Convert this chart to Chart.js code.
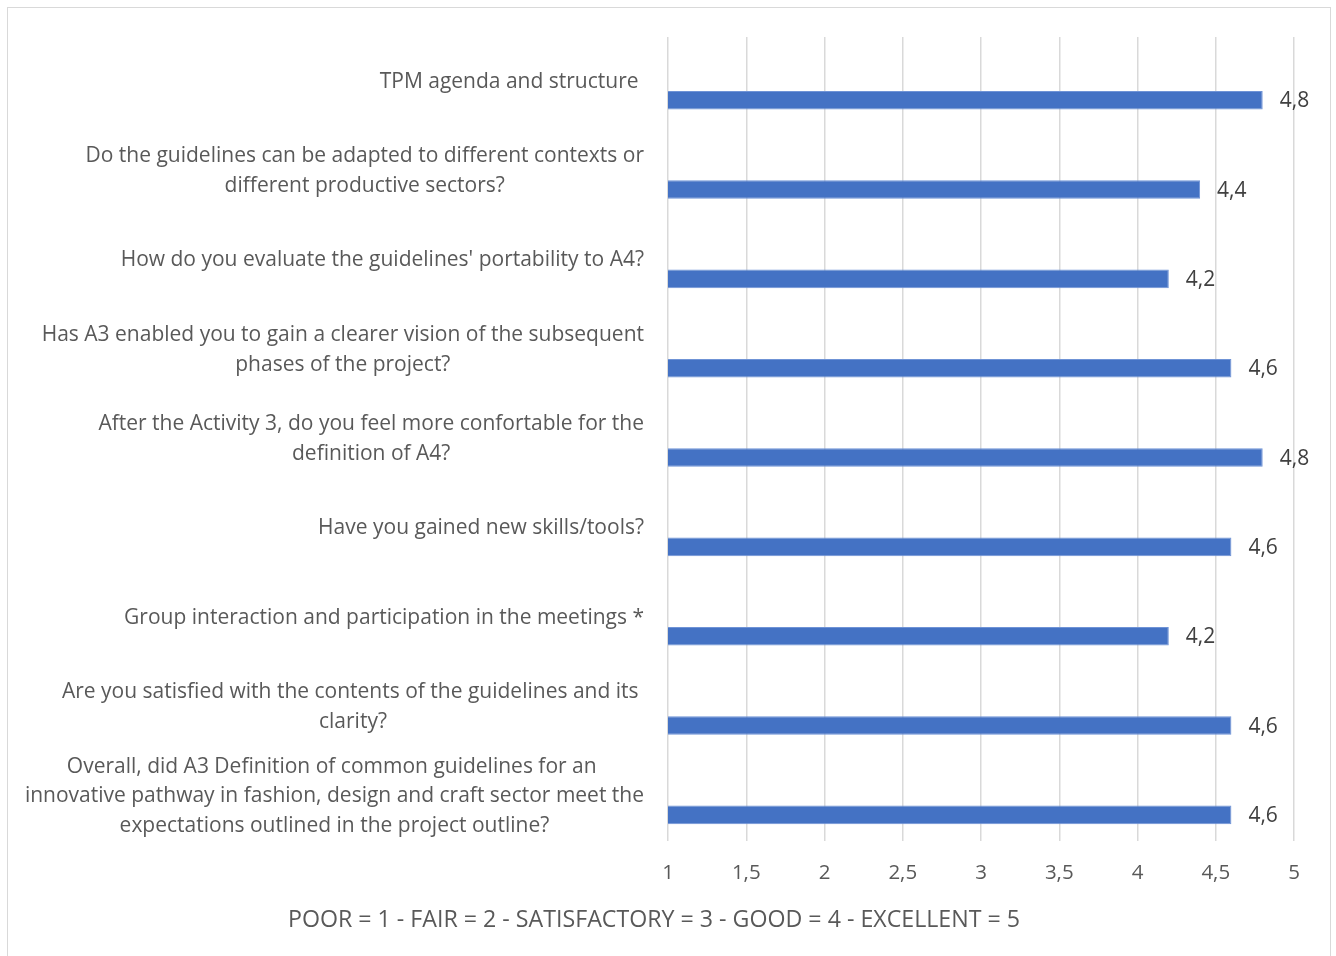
<!DOCTYPE html>
<html>
<head>
<meta charset="utf-8">
<script src="https://cdn.jsdelivr.net/npm/chart.js@4.4.0/dist/chart.umd.min.js"></script>
<style>
    html, body { margin: 0; padding: 0; background: #fff; }
    #wrap { position: relative; width: 1336px; height: 956px; overflow: hidden; }
    #frame { position: absolute; left: 7px; top: 7px; width: 1322px; height: 980px; border: 1px solid #d9d9d9; }
    #chart { position: absolute; left: 0; top: 0; }
</style>
</head>
<body>
<div id="wrap">
    <div id="frame"></div>
    <canvas id="chart" width="1336" height="956"></canvas>
</div>
<script>
// Dados
const categories = [
    ['TPM agenda and structure '],
    ['Do the guidelines can be adapted to different contexts or', 'different productive sectors?'],
    ["How do you evaluate the guidelines' portability to A4?"],
    ['Has A3 enabled you to gain a clearer vision of the subsequent', 'phases of the project?'],
    ['After the Activity 3, do you feel more confortable for the', 'definition of A4?'],
    ['Have you gained new skills/tools?'],
    ['Group interaction and participation in the meetings *'],
    ['Are you satisfied with the contents of the guidelines and its ', 'clarity?'],
    ['Overall, did A3 Definition of common guidelines for an ', 'innovative pathway in fashion, design and craft sector meet the', 'expectations outlined in the project outline?']
];
const scores = [4.8, 4.4, 4.2, 4.6, 4.8, 4.6, 4.2, 4.6, 4.6];
const spacer = categories.map(() => null);
const xMin = 1;
const xMax = 5;
const xStep = 0.5;
const axisTitle = 'POOR = 1 - FAIR = 2 - SATISFACTORY = 3 - GOOD = 4 - EXCELLENT = 5';

const FONT = '"Open Sans"';
const SIZE = 21;
const TEXT = '#595959';

function comma(v) {
    return String(v).replace('.', ',');
}

// Rótulos das categorias e dos valores
const labelsPlugin = {
    id: 'labelsPlugin',
    afterDraw(chart) {
        const ctx = chart.ctx;
        const yScale = chart.scales.y;
        ctx.save();
        ctx.font = SIZE + 'px ' + FONT;
        ctx.fillStyle = TEXT;
        ctx.textBaseline = 'middle';
        ctx.textAlign = 'center';
        const right = chart.chartArea.left - 24;
        categories.forEach((lines, i) => {
            const yc = yScale.getPixelForValue(i);
            const widest = Math.max(...lines.map(l => ctx.measureText(l).width));
            const cx = right - widest / 2;
            lines.forEach((line, j) => {
                ctx.fillText(line, cx, yc + (j - (lines.length - 1) / 2) * 29.8);
            });
        });

        // valores ao lado das barras
        const meta = chart.getDatasetMeta(1);
        ctx.fillStyle = '#404040';
        ctx.textAlign = 'left';
        meta.data.forEach((bar, i) => {
            ctx.fillText(comma(scores[i]), bar.x + 17, bar.y + 1);
        });

        // título do eixo
        ctx.font = '23.2px ' + FONT;
        ctx.fillStyle = TEXT;
        ctx.textAlign = 'center';
        ctx.fillText(axisTitle, 654, 920);
        ctx.restore();
    }
};

const ctx = document.getElementById('chart').getContext('2d');
const chart = new Chart(ctx, {
    type: 'bar',
    data: {
        labels: categories,
        datasets: [{
            label: '',
            data: spacer
        }, {
            label: 'Score',
            data: scores,
            backgroundColor: '#4472c4',
            borderColor: '#6f93d6',
            borderWidth: 1,
            categoryPercentage: 0.83,
            barPercentage: 0.5
        }]
    },
    options: {
        indexAxis: 'y',
        responsive: false,
        animation: false,
        layout: {
            padding: { top: 37, right: 42, left: 0, bottom: 0 }
        },
        datasets: {
            bar: { categoryPercentage: 0.83, barPercentage: 0.5 }
        },
        plugins: {
            legend: { display: false },
            tooltip: { enabled: false }
        },
        scales: {
            x: {
                min: xMin,
                max: xMax,
                afterFit: function(scale) { scale.height = 115; },
                grid: {
                    color: '#d9d9d9',
                    lineWidth: 1.5,
                    drawTicks: false
                },
                border: { display: false },
                ticks: {
                    stepSize: xStep,
                    padding: 20,
                    color: TEXT,
                    font: { family: 'Open Sans', size: 20.5 },
                    callback: function(value) { return comma(value); }
                }
            },
            y: {
                afterFit: function(scale) { scale.width = 668; },
                grid: { display: false },
                border: { display: false },
                ticks: { display: false }
            }
        }
    },
    plugins: [labelsPlugin]
});
</script>
</body>
</html>
